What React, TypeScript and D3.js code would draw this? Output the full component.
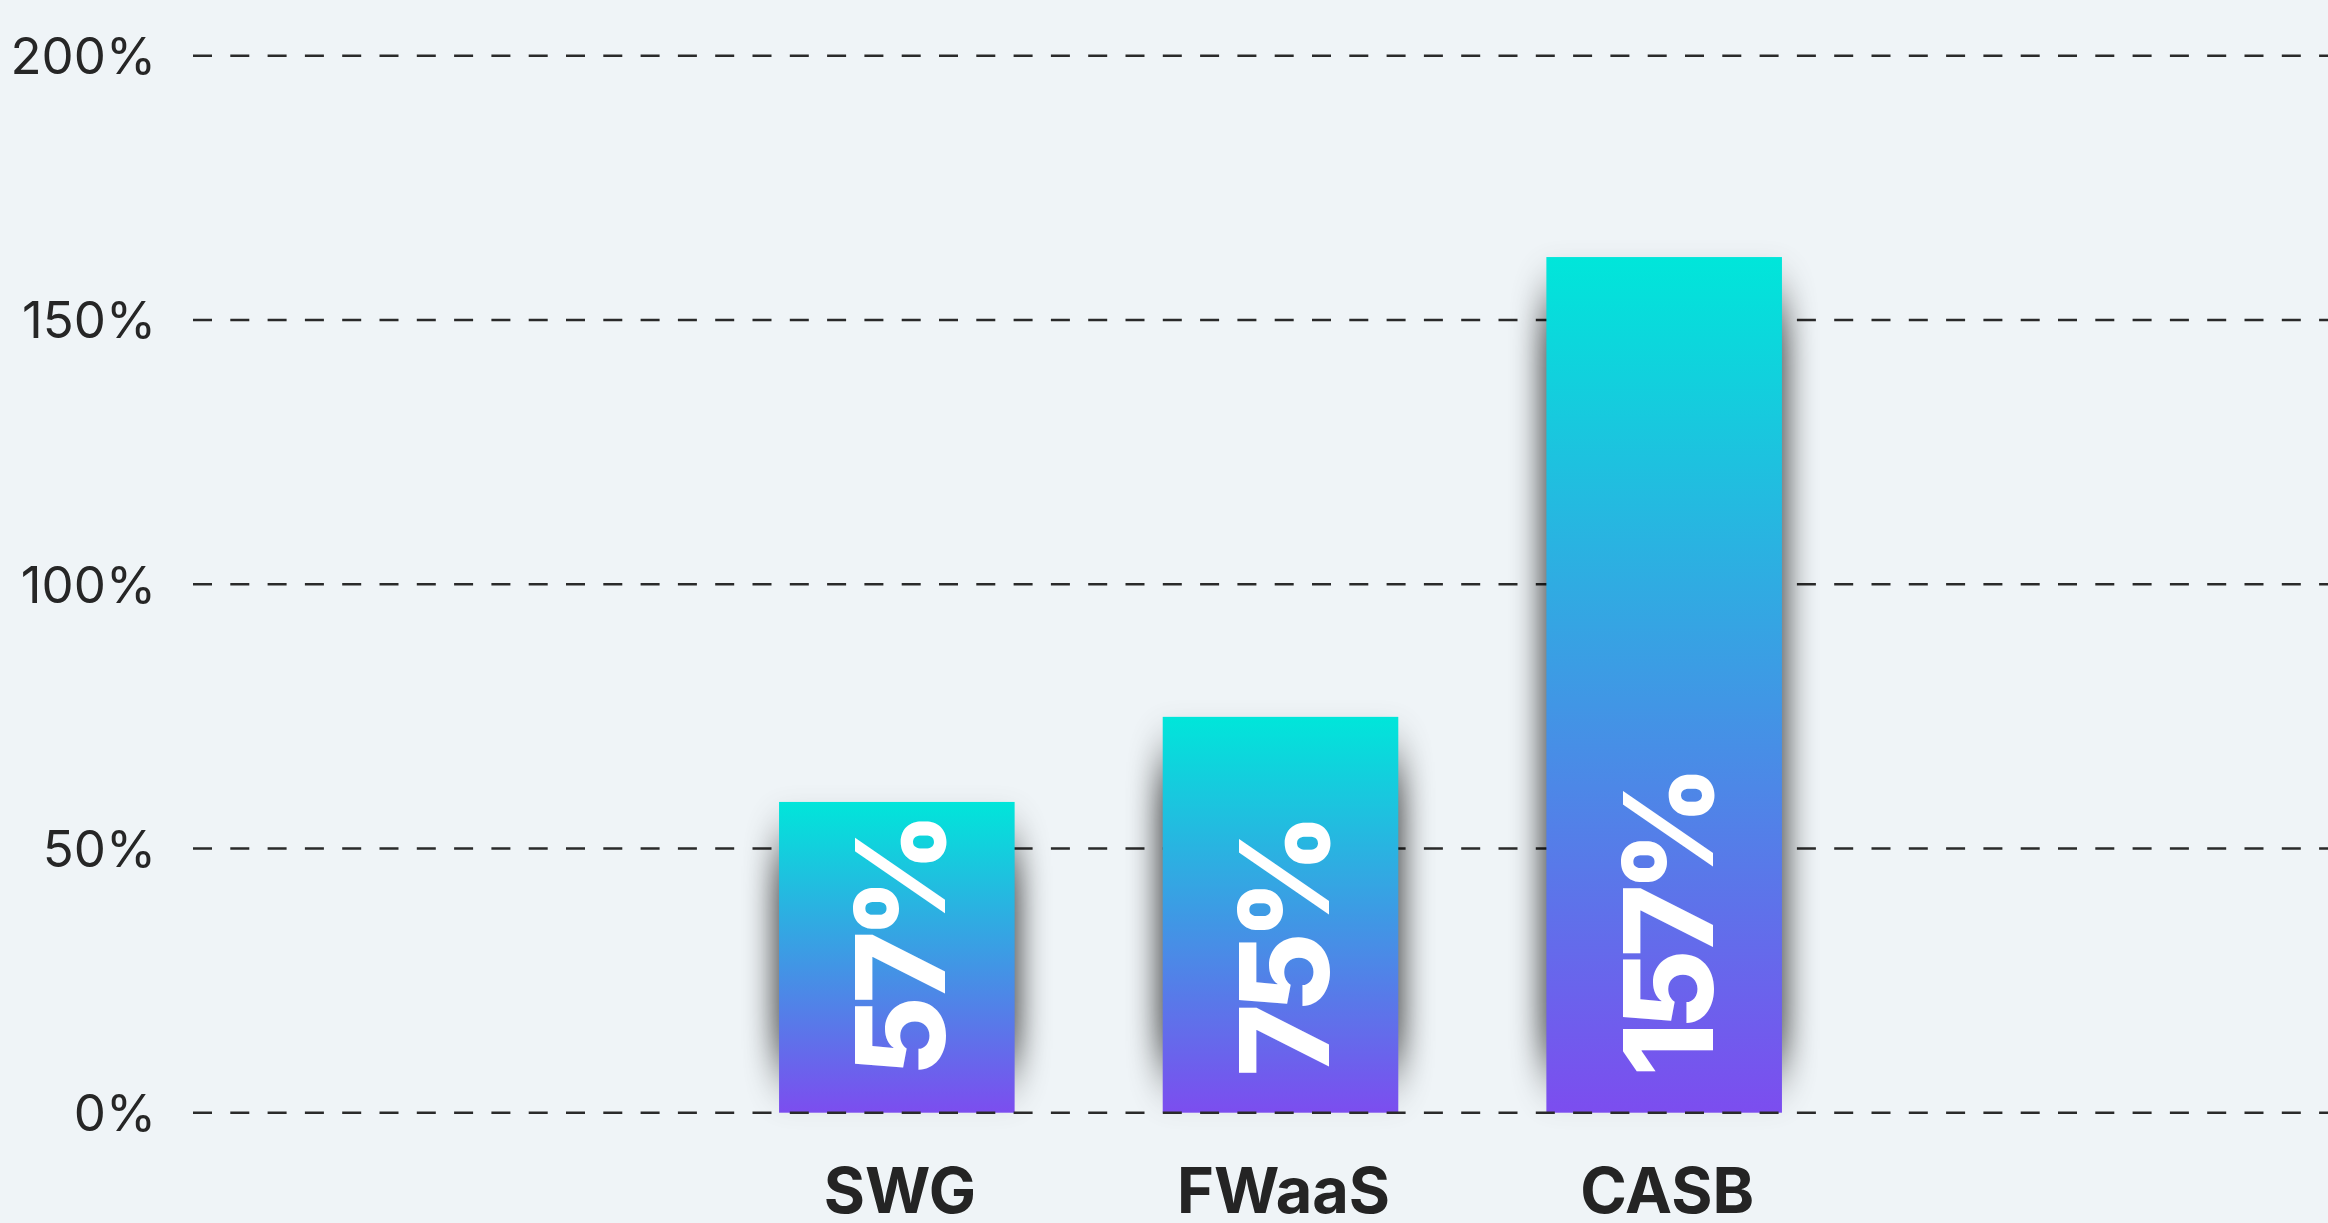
import React, { useEffect, useRef } from 'react';
import * as d3 from 'd3';

// categories, bar heights and printed labels
const categories = ['SWG', 'FWaaS', 'CASB'];
const values = [58.8, 74.9, 161.9];
const valueLabels = ['57%', '75%', '157%'];
const yTicks = [0, 50, 100, 150, 200];

const App = () => {
  const chartRef = useRef<SVGSVGElement | null>(null);

  useEffect(() => {
    const width = 2328;
    const height = 1223;
    const font = 'Inter, "Noto Sans", sans-serif';

    const svg = d3.select(chartRef.current);
    svg.selectAll('*').remove();
    svg.attr('width', width).attr('height', height);

    svg.append('rect').attr('width', width).attr('height', height).attr('fill', '#eff4f7');

    const defs = svg.append('defs');
    const grad = defs
      .append('linearGradient')
      .attr('id', 'barGrad')
      .attr('x1', 0)
      .attr('y1', 0)
      .attr('x2', 0)
      .attr('y2', 1);
    grad.append('stop').attr('offset', '0%').attr('stop-color', '#00e6da');
    grad.append('stop').attr('offset', '100%').attr('stop-color', '#7c4def');

    defs
      .append('filter')
      .attr('id', 'barShadow')
      .attr('x', '-50%')
      .attr('y', '-50%')
      .attr('width', '200%')
      .attr('height', '200%')
      .append('feGaussianBlur')
      .attr('stdDeviation', '15 28');

    const y = d3.scaleLinear().domain([0, 200]).range([1112.7, 55.7]);
    const x = d3
      .scaleBand()
      .domain(categories)
      .range([705, 1856])
      .paddingInner(0.386)
      .paddingOuter(0.193);

    const gridLeft = 193;

    // y tick labels
    svg
      .append('g')
      .selectAll('text')
      .data(yTicks)
      .enter()
      .append('text')
      .attr('x', 156)
      .attr('y', (d) => y(d))
      .attr('dy', '0.36em')
      .attr('text-anchor', 'end')
      .attr('font-family', font)
      .attr('font-size', 51)
      .attr('font-weight', 400)
      .attr('fill', '#262626')
      .text((d) => `${d}%`);

    // dashed grid lines (0% line drawn later, over the bars)
    svg
      .append('g')
      .selectAll('line')
      .data(yTicks.filter((d) => d !== 0))
      .enter()
      .append('line')
      .attr('x1', gridLeft)
      .attr('x2', width)
      .attr('y1', (d) => y(d))
      .attr('y2', (d) => y(d))
      .attr('stroke', '#2a2a2a')
      .attr('stroke-width', 2.5)
      .attr('stroke-dasharray', '19 18.3');

    const bars = svg.append('g');

    // soft shadow behind each bar
    bars
      .selectAll('.shadow')
      .data(values)
      .enter()
      .append('rect')
      .attr('class', 'shadow')
      .attr('x', (d, i) => x(categories[i])! - 5)
      .attr('width', x.bandwidth() + 10)
      .attr('y', (d) => y(d) + 45)
      .attr('height', (d) => Math.max(0, y(0) - y(d) - 90))
      .attr('fill', '#000')
      .attr('opacity', 0.7)
      .attr('filter', 'url(#barShadow)');

    bars
      .selectAll('.bar')
      .data(values)
      .enter()
      .append('rect')
      .attr('class', 'bar')
      .attr('x', (d, i) => x(categories[i])!)
      .attr('width', x.bandwidth())
      .attr('y', (d) => y(d))
      .attr('height', (d) => y(0) - y(d))
      .attr('fill', 'url(#barGrad)');

    // rotated value labels inside bars
    bars
      .selectAll('.val')
      .data(valueLabels)
      .enter()
      .append('text')
      .attr('class', 'val')
      .attr('transform', (d, i) => {
        const cx = x(categories[i])! + x.bandwidth() / 2 + 4;
        return `translate(${cx},${y(0) - 36}) rotate(-90)`;
      })
      .attr('dy', '0.36em')
      .attr('text-anchor', 'start')
      .attr('font-family', font)
      .attr('font-size', 124)
      .attr('font-weight', 800)
      .attr('letter-spacing', -8)
      .attr('fill', '#ffffff')
      .text((d) => d);

    // zero line on top
    svg
      .append('line')
      .attr('x1', gridLeft)
      .attr('x2', width)
      .attr('y1', y(0))
      .attr('y2', y(0))
      .attr('stroke', '#2a2a2a')
      .attr('stroke-width', 2.5)
      .attr('stroke-dasharray', '19 18.3');

    // category labels
    svg
      .append('g')
      .selectAll('text')
      .data(categories)
      .enter()
      .append('text')
      .attr('x', (d) => x(d)! + x.bandwidth() / 2 + 3)
      .attr('y', 1213)
      .attr('text-anchor', 'middle')
      .attr('font-family', font)
      .attr('font-size', 63)
      .attr('font-weight', 700)
      .attr('fill', '#242424')
      .text((d) => d);
  }, []);

  return (
    <div style={{ position: 'absolute', left: 0, top: 0 }}>
      <svg ref={chartRef} style={{ display: 'block' }}></svg>
    </div>
  );
};

export default App;
